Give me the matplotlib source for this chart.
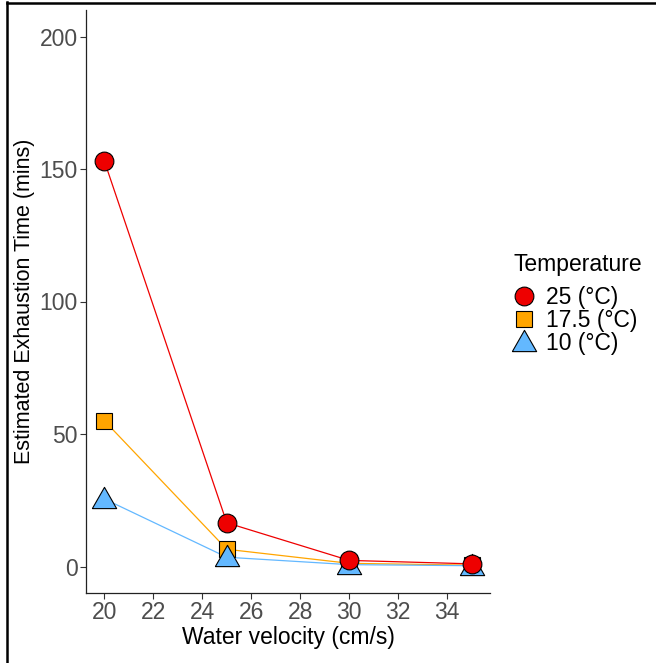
import matplotlib
matplotlib.use("Agg")
import matplotlib.pyplot as plt
from matplotlib.lines import Line2D

plt.rcParams['font.family'] = ['Liberation Sans', 'DejaVu Sans']

# Estimated exhaustion time by water velocity, one series per temperature
velocity = [20, 25, 30, 35]
time_25 = [153, 16.5, 2.3, 1.0]
time_17_5 = [55, 6.5, 1.2, 0.5]
time_10 = [25.5, 3.5, 0.7, 0.3]

# wide, flat triangle like R's pch 24
tri = [(-1, -0.75), (1, -0.75), (0, 1.0), (-1, -0.75)]

series = [
    # label, values, colour, marker, size
    ("17.5 (°C)", time_17_5, "#FFA500", "s", 11.5),
    ("10 (°C)", time_10, "#63B8FF", tri, 17.5),
    ("25 (°C)", time_25, "#EE0000", "o", 13.5),
]
legend_order = ["25 (°C)", "17.5 (°C)", "10 (°C)"]

W, H = 656, 663
fig = plt.figure(figsize=(W / 100, H / 100), dpi=100)
ax = fig.add_axes([86 / W, 1 - 593 / H, (490 - 86) / W, (593 - 10) / H])

for label, vals, col, mk, ms in series:
    ax.plot(velocity, vals, color=col, lw=0.9, zorder=2)
for label, vals, col, mk, ms in series:
    ax.plot(velocity, vals, ls="none", marker=mk, ms=ms, mfc=col,
            mec="black", mew=0.8, zorder=3)

ax.set_xlim(19.25, 35.75)
ax.set_ylim(-10, 210)
ax.set_xticks(range(20, 36, 2))
ax.set_yticks([0, 50, 100, 150, 200])
ax.set_xlabel("Water velocity (cm/s)", fontsize=16.5, labelpad=1)
ax.set_ylabel("Estimated Exhaustion Time (mins)", fontsize=15.5, labelpad=3)
ax.tick_params(labelsize=16.5, labelcolor="#4D4D4D", color="#333333",
               length=4, width=0.8, pad=2)
for s in ["top", "right"]:
    ax.spines[s].set_visible(False)
for s in ["left", "bottom"]:
    ax.spines[s].set_linewidth(0.9)
    ax.spines[s].set_color("#222222")

styles = {lab: (col, mk, ms) for lab, _, col, mk, ms in series}
handles = [Line2D([], [], ls="none", marker=styles[l][1], ms=styles[l][2],
                  mfc=styles[l][0], mec="black", mew=0.8) for l in legend_order]
fig.text(513 / W, 1 - 265 / H, "Temperature", fontsize=16.5, va="center",
         ha="left")
fig.legend(handles, legend_order, loc="upper left",
           bbox_to_anchor=(513 / W, 1 - 286 / H),
           frameon=False, fontsize=16.5,
           labelspacing=0.0, handletextpad=0.45, handlelength=1.0,
           borderaxespad=0, borderpad=0)

# partial page frame on the top and left
fig.add_artist(Line2D([7 / W, 7 / W], [0, 1 - 2 / H], color="black", lw=1.8,
                      transform=fig.transFigure))
fig.add_artist(Line2D([7 / W, 1], [1 - 3 / H, 1 - 3 / H], color="black",
                      lw=1.8, transform=fig.transFigure))

fig.savefig("out.png", dpi=100)
